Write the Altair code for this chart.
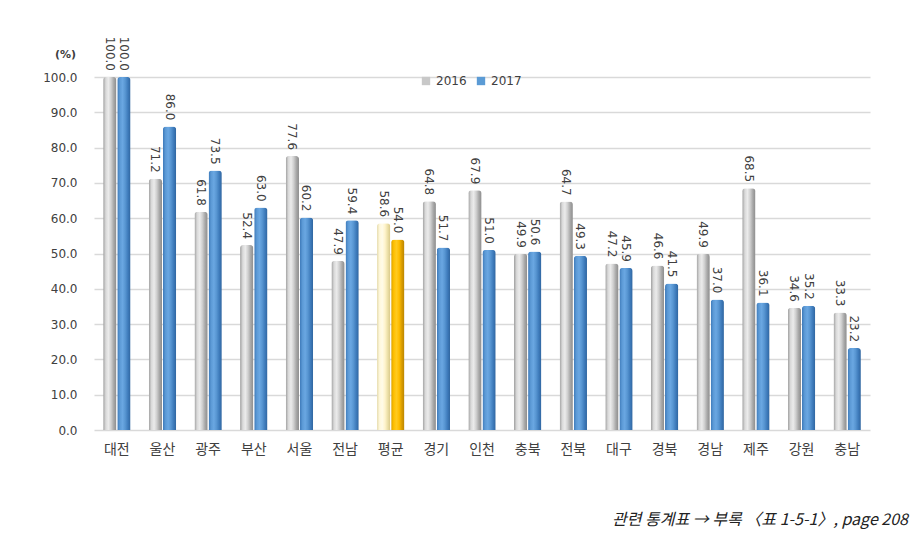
import altair as alt
import pandas as pd

regions = ["대전", "울산", "광주", "부산", "서울", "전남", "평균", "경기", "인천",
           "충북", "전북", "대구", "경북", "경남", "제주", "강원", "충남"]
v2016 = [100.0, 71.2, 61.8, 52.4, 77.6, 47.9, 58.6, 64.8, 67.9,
         49.9, 64.7, 47.2, 46.6, 49.9, 68.5, 34.6, 33.3]
v2017 = [100.0, 86.0, 73.5, 63.0, 60.2, 59.4, 54.0, 51.7, 51.0,
         50.6, 49.3, 45.9, 41.5, 37.0, 36.1, 35.2, 23.2]
years = ["2016", "2017"]
avg_label = "평균"
footer = "관련 통계표 → 부록 〈표 1-5-1〉, page 208"

rows = []
for r, a, b in zip(regions, v2016, v2017):
    rows.append({"region": r, "year": "2016", "value": a, "avg": r == avg_label})
    rows.append({"region": r, "year": "2017", "value": b, "avg": r == avg_label})
df = pd.DataFrame(rows)


def grad(colors):
    n = len(colors)
    return alt.Gradient(
        gradient="linear", x1=0, x2=1, y1=0, y2=0,
        stops=[alt.GradientStop(offset=i / (n - 1), color=c) for i, c in enumerate(colors)],
    )


gray = grad(["#9e9e9e", "#d9d9d9", "#ebebeb", "#cfcfcf", "#a8a8a8", "#8c8c8c"])
blue = grad(["#3c78b8", "#5c9ad6", "#6aa7e2", "#5896d2", "#3f7cbc", "#2f659f"])
lightyel = grad(["#e6dcae", "#fff8dc", "#fffbe8", "#fff4cc", "#ece0a8", "#d8c888"])
gold = grad(["#d9a000", "#ffc000", "#ffca20", "#ffbd00", "#d99c00", "#b98400"])

base = alt.Chart(df).encode(
    x=alt.X(
        "region:N", sort=regions,
        scale=alt.Scale(paddingInner=0.4, paddingOuter=0.2),
        axis=alt.Axis(title=None, labelAngle=0, labelFont="Noto Sans CJK KR",
                      labelFontSize=14, labelColor="#404040", labelPadding=12,
                      ticks=False, domain=False, grid=False),
    ),
    xOffset=alt.XOffset("year:N", scale=alt.Scale(domain=years, paddingInner=0.06)),
    y=alt.Y(
        "value:Q", scale=alt.Scale(domain=[0, 100]),
        axis=alt.Axis(title="(%)", titleAngle=0, titleX=-29, titleY=-18,
                      titleAlign="center", titleFont="DejaVu Sans", titleFontSize=11,
                      titleFontWeight="bold", titleColor="#404040",
                      format=".1f", values=list(range(0, 101, 10)),
                      labelFont="DejaVu Sans", labelFontSize=12, labelColor="#404040",
                      labelPadding=17, ticks=False, domain=False,
                      gridColor="#d9d9d9", gridWidth=1.5),
    ),
)

bar_kw = dict(cornerRadiusTopLeft=3, cornerRadiusTopRight=3)
b16 = base.transform_filter((alt.datum.year == "2016") & (~alt.datum.avg)).mark_bar(color=gray, **bar_kw)
b17 = base.transform_filter((alt.datum.year == "2017") & (~alt.datum.avg)).mark_bar(color=blue, **bar_kw)
a16 = base.transform_filter((alt.datum.year == "2016") & (alt.datum.avg)).mark_bar(color=lightyel, **bar_kw)
a17 = base.transform_filter((alt.datum.year == "2017") & (alt.datum.avg)).mark_bar(color=gold, **bar_kw)

labels = base.mark_text(angle=90, align="right", baseline="middle", dx=-6,
                        font="DejaVu Sans", fontSize=12, color="#404040").encode(
    text=alt.Text("value:Q", format=".1f"))

legend_layer = base.mark_square(opacity=0, size=10).encode(
    color=alt.Color(
        "year:N",
        scale=alt.Scale(domain=years, range=["#c8c8c8", "#5b9bd5"]),
        legend=alt.Legend(title=None, orient="none", legendX=326, legendY=-2,
                          direction="horizontal", symbolType="square", symbolSize=70,
                          symbolOpacity=1, symbolStrokeWidth=0, labelFont="DejaVu Sans",
                          labelFontSize=12, labelColor="#404040", columnPadding=8,
                          labelOffset=4),
    )
)

chart = alt.layer(b16, b17, a16, a17, labels, legend_layer).properties(
    width=776, height=353, autosize="none",
    padding={"left": 86, "top": 69, "right": 41, "bottom": 106},
    title=alt.TitleParams(footer, orient="bottom", anchor="end", font="Noto Sans CJK KR",
                          fontSize=16, fontStyle="italic", fontWeight="normal",
                          color="#222222", dx=38, offset=56),
).configure_view(stroke=None)

chart.save("out.html", embed_options={"renderer": "svg", "actions": False})
